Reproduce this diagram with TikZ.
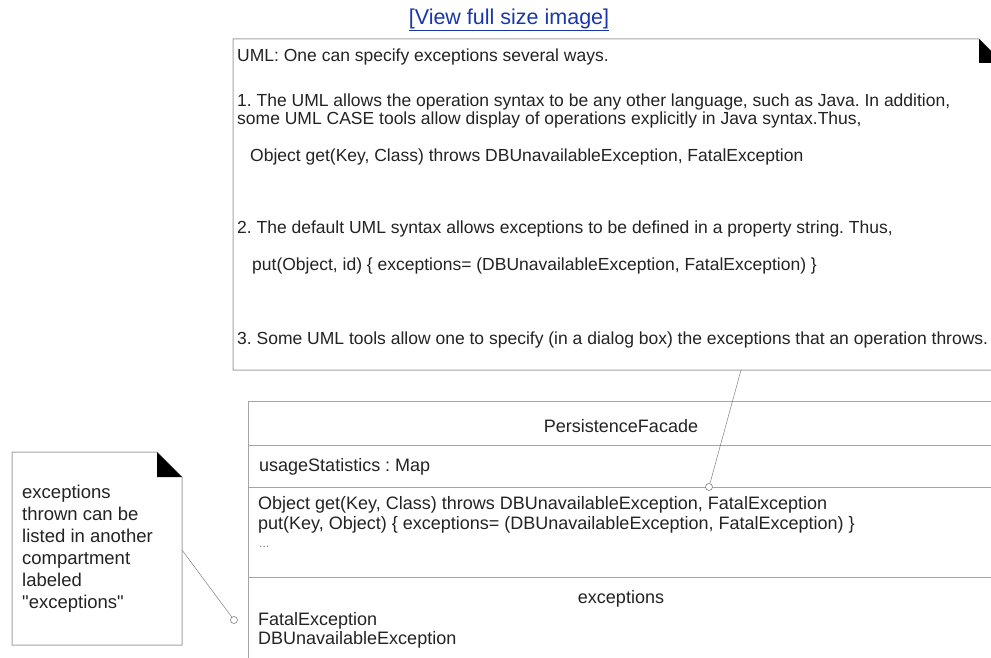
\documentclass[tikz,border=0pt]{standalone}
\usepackage{fontspec}
\setmainfont{Liberation Sans}
\newfontfamily\notefont{Liberation Sans}
\usetikzlibrary{positioning}
\definecolor{framegray}{RGB}{165,165,165}
\definecolor{inkgray}{RGB}{35,35,35}
\definecolor{linkblue}{RGB}{25,55,170}
\tikzset{
  memo/.style={anchor=west, inner sep=0pt, text=inkgray, font=\fontsize{17.5}{20}\selectfont},
  member/.style={anchor=west, inner sep=0pt, text=inkgray, font=\fontsize{18}{20}\selectfont},
  frame/.style={draw=framegray, line width=1pt},
  tether/.style={draw=gray, line width=0.5pt},
  pin/.style={circle, draw=gray, fill=white, line width=0.6pt, minimum size=7pt, inner sep=0pt}
}
\begin{document}
\frenchspacing
\begin{tikzpicture}[x=1pt,y=-1pt]
\useasboundingbox (0,0) rectangle (991,658);
\clip (0,0) rectangle (991,658);
\fill[white] (0,0) rectangle (991,658);
% link above the notes
\node[inner sep=0pt, text=linkblue, font=\fontsize{21.5}{24}\selectfont] (viewlink) at (509,20) {\underline{[View full size image]}};
% big note
\draw[frame] (233,39) -- (979,39) -- (1003,63) -- (1003,370) -- (233,370) -- cycle;
\fill (979,39) -- (979,63) -- (1003,63) -- cycle;
\node[memo] (uml) at (237,57) {UML: One can specify exceptions several ways.};
\node[memo] (wayonea) at (237,102) {1. The UML allows the operation syntax to be any other language, such as Java. In addition,};
\node[memo] (wayoneb) at (237,120) {some UML CASE tools allow display of operations explicitly in Java syntax.Thus,};
\node[memo] (javasig) at (250,157) {Object get(Key, Class) throws DBUnavailableException, FatalException};
\node[memo] (waytwo) at (237,229) {2. The default UML syntax allows exceptions to be defined in a property string. Thus,};
\node[memo] (propsig) at (252,266) {put(Object, id) \{ exceptions= (DBUnavailableException, FatalException) \}};
\node[memo] (waythree) at (237,340) {3. Some UML tools allow one to specify (in a dialog box) the exceptions that an operation throws.};
% class box
\draw[frame] (248,401) rectangle (994,700);
\draw[frame] (248,445) -- (994,445);
\draw[frame] (248,487) -- (994,487);
\draw[frame] (248,577) -- (994,577);
\node[member, anchor=center] (facade) at (621,426) {PersistenceFacade};
\node[member] (usage) at (259,467) {usageStatistics : Map};
\node[member] (getop) at (258,505) {Object get(Key, Class) throws DBUnavailableException, FatalException};
\node[member] (putop) at (258,525) {put(Key, Object) \{ exceptions= (DBUnavailableException, FatalException) \}};
\node[member, text=gray, font=\fontsize{12}{14}\selectfont] (moreops) at (259,547) {...};
\node[member, anchor=center] (exhead) at (621,599) {exceptions};
\node[member] (fatal) at (258,621) {FatalException};
\node[member] (dbunavail) at (258,640) {DBUnavailableException};
% small note
\draw[frame] (12,452) -- (157,452) -- (182,477) -- (182,645) -- (12,645) -- cycle;
\fill (157,452) -- (157,477) -- (182,477) -- cycle;
\node[member, font=\notefont\fontsize{18.5}{22}\selectfont, align=left, anchor=north west] (sidenote) at (22,485)
  {exceptions\\thrown can be\\listed in another\\compartment\\labeled\\"exceptions"};
% anchors for the tethers
\coordinate (bigfoot) at (741,370);
\coordinate (smallfoot) at (182,550);
\node[pin] (getpin) at (709,487) {};
\node[pin] (expin) at (234,620) {};
\draw[tether] (bigfoot) -- (getpin);
\draw[tether] (smallfoot) -- (expin);
\end{tikzpicture}
\end{document}
